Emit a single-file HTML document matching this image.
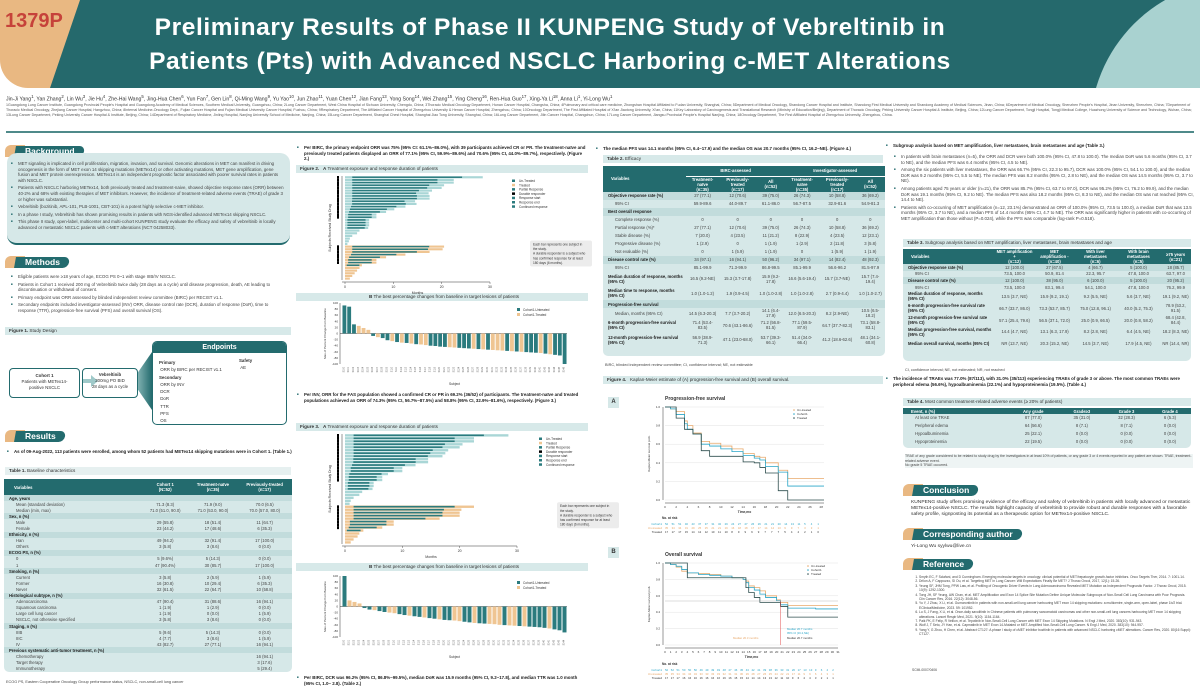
<!DOCTYPE html>
<html><head><meta charset="utf-8">
<style>
*{margin:0;padding:0;box-sizing:border-box}
body{width:1200px;height:691px;overflow:hidden;background:#fff;font-family:"Liberation Sans",sans-serif;color:#333;position:relative}
.a{position:absolute}
.t{font-size:4.4px;line-height:5.6px;color:#444}
.b{font-weight:bold}
.sec{position:absolute;height:12px}
.sec .w{position:absolute;left:0;top:0;width:20px;height:12px;background:#e9b882;border-radius:6px 0 0 0}
.sec .p{position:absolute;left:10px;top:1px;height:11px;background:#236b6e;color:#fff;font-weight:bold;font-size:8.5px;line-height:11px;padding:0 9px 0 10px;border-radius:0 7px 7px 0;transform:skewX(-10deg);white-space:nowrap}
.sec .p span{display:inline-block;transform:skewX(10deg)}
.cap{position:absolute;height:8px;background:#d7e9e9;font-size:4.6px;line-height:8px;padding-left:4px;color:#333}
ul.l{list-style:none}
ul.l li{position:relative;padding-left:8px;margin-bottom:2px}
ul.l li:before{content:"■";position:absolute;left:1px;top:0;font-size:3px;color:#236b6e}
table{border-collapse:collapse;width:100%}
td,th{font-size:4.2px;line-height:5px;padding:0 2px;text-align:center}
th{color:#fff;font-weight:bold}
td:first-child{text-align:left}
</style></head><body>

<!-- HEADER -->
<div class="a" style="left:0;top:0;width:1200px;height:88px;background:#e9b882;border-radius:0 0 0 28px;overflow:hidden">
  <div class="a" style="left:0;top:0;width:1200px;height:88px;background:#25696c;clip-path:polygon(80px 0,1200px 0,1200px 88px,50px 88px)"></div>
  <div class="a" style="left:1090px;top:-20px;width:300px;height:300px;border-radius:50%;background:#a9d2d0"></div>
  <div class="a b" style="left:5px;top:10px;font-size:20px;color:#c6423a">1379P</div>
  <div class="a b" style="left:90px;top:11px;width:920px;text-align:center;font-size:24.5px;line-height:34px;color:#fff;letter-spacing:0.6px">Preliminary Results of Phase II KUNPENG Study of Vebreltinib in<br>Patients (Pts) with Advanced NSCLC Harboring c-MET Alterations</div>
</div>
<div class="a" style="left:6px;top:94px;width:1190px;font-size:5.2px;color:#333">Jin-Ji Yang<sup>1</sup>, Yan Zhang<sup>2</sup>, Lin Wu<sup>3</sup>, Jie Hu<sup>4</sup>, Zhe-Hai Wang<sup>5</sup>, Jing-Hua Chen<sup>6</sup>, Yun Fan<sup>7</sup>, Gen Lin<sup>8</sup>, Qi-Ming Wang<sup>9</sup>, Yu Yao<sup>10</sup>, Jun Zhao<sup>11</sup>, Yuan Chen<sup>12</sup>, Jian Fang<sup>13</sup>, Yong Song<sup>14</sup>, Wei Zhang<sup>15</sup>, Ying Cheng<sup>16</sup>, Ren-Hua Guo<sup>17</sup>, Xing-Ya Li<sup>18</sup>, Anna Li<sup>1</sup>, Yi-Long Wu<sup>1</sup></div>
<div class="a t" style="left:6px;top:103px;width:1190px;font-size:3.6px;line-height:5px;color:#555">1Guangdong Lung Cancer Institute, Guangdong Provincial People's Hospital and Guangdong Academy of Medical Sciences, Southern Medical University, Guangzhou, China; 2Lung Cancer Department, West China Hospital of Sichuan University, Chengdu, China; 3Thoracic Medical Oncology Department, Hunan Cancer Hospital, Changsha, China; 4Pulmonary and critical care medicine, Zhongshan Hospital Affiliated to Fudan University, Shanghai, China; 5Department of Medical Oncology, Shandong Cancer Hospital and Institute, Shandong First Medical University and Shandong Academy of Medical Sciences, Jinan, China; 6Department of Medical Oncology, Shenzhen People's Hospital, Jinan University, Shenzhen, China; 7Department of Thoracic Medical Oncology, Zhejiang Cancer Hospital, Hangzhou, China; 8Internal Medicine-Oncology Dept., Fujian Cancer Hospital and Fujian Medical University Cancer Hospital, Fuzhou, China; 9Respiratory Department, The Affiliated Cancer Hospital of Zhengzhou University &amp; Henan Cancer Hospital, Zhengzhou, China; 10Oncology Department, The First Affiliated Hospital of Xi'an Jiaotong University, Xi'an, China; 11Key Laboratory of Carcinogenesis and Translational Research (Ministry of Education/Beijing), Department of Thoracic Oncology, Peking University Cancer Hospital &amp; Institute, Beijing, China; 12Lung Cancer Department, Tongji Hospital, Tongji Medical College, Huazhong University of Science and Technology, Wuhan, China; 13Lung Cancer Department, Peking University Cancer Hospital &amp; Institute, Beijing, China; 14Department of Respiratory Medicine, Jinling Hospital, Nanjing University School of Medicine, Nanjing, China; 15Lung Cancer Department, Shanghai Chest Hospital, Shanghai Jiao Tong University, Shanghai, China; 16Lung Cancer Department, Jilin Cancer Hospital, Changchun, China; 17Lung Cancer Department, Jiangsu Provincial People's Hospital Nanjing, China; 18Oncology Department, The First Affiliated Hospital of Zhengzhou University, Zhengzhou, China.</div>
<div class="a" style="left:6px;top:131px;width:1188px;height:2px;background:#4f8a8a"></div>

<!-- COLUMN 1 -->
<div class="sec" style="left:5px;top:145px"><div class="w"></div><div class="p"><span>Background</span></div></div>
<div class="a" style="left:7px;top:153px;width:283px;height:92px;background:#d6e8e8;border-radius:10px;border-bottom:2px solid #236b6e"></div>
<ul class="a l t" style="left:10px;top:161px;width:276px">
<li>MET signaling is implicated in cell proliferation, migration, invasion, and survival. Genomic alterations in MET can manifest in driving oncogenesis in the form of MET exon 14 skipping mutations (METex14) or other activating mutations, MET gene amplification, gene fusion and MET protein overexpression. METex14 is an independent prognostic factor associated with poorer survival rates in patients with NSCLC.</li>
<li>Patients with NSCLC harboring METex14, both previously treated and treatment-naive, showed objective response rates (ORR) between 40-2% and 68% with existing therapies of MET inhibitors. However, the incidence of treatment-related adverse events (TRAE) of grade 3 or higher was substantial.</li>
<li>Vebreltinib (bozitinib, APL-101, PLB-1001, CBT-101) is a potent highly selective c-MET inhibitor.</li>
<li>In a phase I study, Vebreltinib has shown promising results in patients with NGS-identified advanced METex14 skipping NSCLC.</li>
<li>This phase II study, open-label, multicenter and multi-cohort KUNPENG study evaluate the efficacy and safety of vebreltinib in locally advanced or metastatic NSCLC patients with c-MET alterations (NCT 04258033).</li>
</ul>
<div class="sec" style="left:5px;top:256px"><div class="w"></div><div class="p"><span>Methods</span></div></div>
<ul class="a l t" style="left:10px;top:274px;width:276px">
<li>Eligible patients were ≥18 years of age, ECOG PS 0~1 with stage IIIB/IV NSCLC.</li>
<li>Patients in Cohort 1 received 200 mg of Vebreltinib twice daily (28 days as a cycle) until disease progression, death, AE leading to discontinuation or withdrawal of consent.</li>
<li>Primary endpoint was ORR assessed by blinded independent review committee (BIRC) per RECIST v1.1.</li>
<li>Secondary endpoints included investigator-assessed (INV) ORR, disease control rate (DCR), duration of response (DoR), time to response (TTR), progression-free survival (PFS) and overall survival (OS).</li>
</ul>
<div class="cap" style="left:5px;top:327px;width:286px"><b>Figure 1.</b> Study Design</div>
<div class="a" style="left:9px;top:368px;width:71px;height:30px;border:1.3px solid #236b6e;border-radius:4px;text-align:center;font-size:4.4px;line-height:6px;padding-top:4px"><b>Cohort 1</b><br>Patients with METex14-<br>positive NSCLC</div>
<div class="a" style="left:82px;top:379px;width:10px;height:4px;background:#9fc9c9"></div>
<div class="a" style="left:91px;top:375px;width:0;height:0;border-left:7px solid #9fc9c9;border-top:6px solid transparent;border-bottom:6px solid transparent"></div>
<div class="a" style="left:82px;top:368px;width:56px;height:30px;border:1.3px solid #236b6e;border-radius:4px"></div>
<div class="a" style="left:82px;top:372px;width:56px;text-align:center;font-size:4.4px;line-height:6px"><b>Vebreltinib</b><br>200mg PO BID<br>28 days as a cycle</div>
<div class="a" style="left:138px;top:352px;width:14px;height:58px;background:linear-gradient(90deg,#7fb0b0,#236b6e);clip-path:polygon(0 35%,100% 0,100% 100%,0 65%)"></div>
<div class="a" style="left:152px;top:341px;width:135px;height:84px;border:1.3px solid #236b6e;border-radius:5px;overflow:hidden">
  <div style="height:11px;background:#236b6e;color:#fff;font-weight:bold;font-size:7px;line-height:11px;text-align:center">Endpoints</div>
  <div class="a" style="left:6px;top:17px;font-size:4.4px;line-height:7.3px"><b>Primary</b><br>&nbsp;ORR by BIRC per RECIST v1.1<br><b>Secondary</b><br>&nbsp;ORR by INV<br>&nbsp;DCR<br>&nbsp;DoR<br>&nbsp;TTR<br>&nbsp;PFS<br>&nbsp;OS</div>
  <div class="a" style="left:86px;top:15px;font-size:4.4px;line-height:7px"><b>Safety</b><br>&nbsp;AE</div>
</div>
<div class="sec" style="left:5px;top:430px"><div class="w"></div><div class="p"><span>Results</span></div></div>
<ul class="a l t b" style="left:6px;top:449px;width:286px;color:#222"><li>As of 09-Aug-2022, 113 patients were enrolled, among whom 52 patients had METex14 skipping mutations were in Cohort 1. (Table 1.)</li></ul>
<div class="cap" style="left:5px;top:467px;width:286px;background:#e6f0f0"><b>Table 1.</b> Baseline characteristics</div>
<div class="a" style="left:4px;top:479px;width:288px;height:193px;background:#d6e8e8;border-radius:0 0 5px 5px;overflow:hidden">
<table style="font-size:4px">
<tr style="background:#236b6e;height:16px"><th style="text-align:left;padding-left:10px">Variables</th><th>Cohort 1<br>(N=52)</th><th>Treatment-naïve<br>(n=35)</th><th>Previously-treated<br>(n=17)</th></tr>
<tbody id="t1"></tbody></table></div>
<div class="a t" style="left:6px;top:680px;font-size:3.8px">ECOG PS, Eastern Cooperative Oncology Group performance status, NSCLC, non-small-cell lung cancer</div>

<!-- COLUMN 2 -->
<ul class="a l t b" style="left:296px;top:145px;width:292px;color:#222"><li>Per BIRC, the primary endpoint ORR was 75% (95% CI: 61.1%~86.0%), with 39 participants achieved CR or PR. The treatment-naïve and previously treated patients displayed an ORR of 77.1% (95% CI, 59.9%~89.6%) and 70.6% (95% CI, 44.0%~89.7%), respectively. (Figure 2.)</li></ul>
<div class="cap" style="left:296px;top:165px;width:292px"><b>Figure 2.</b> &nbsp; <b>A</b> Treatment exposure and response duration of patients</div>
<div class="cap" style="left:296px;top:293px;width:292px;text-align:center"><b>B</b> The best percentage changes from baseline in target lesions of patients</div>
<ul class="a l t b" style="left:296px;top:392px;width:292px;color:#222"><li>Per INV, ORR for the FAS population showed a confirmed CR or PR in 69.2% (36/52) of participants. The treatment-naïve and treated populations achieved an ORR of 74.3% (95% CI, 56.7%~87.5%) and 58.8% (95% CI, 32.9%~81.6%), respectively. (Figure 3.)</li></ul>
<div class="cap" style="left:296px;top:423px;width:292px"><b>Figure 3.</b> &nbsp; <b>A</b> Treatment exposure and response duration of patients</div>
<div class="cap" style="left:296px;top:563px;width:292px;text-align:center"><b>B</b> The best percentage changes from baseline in target lesions of patients</div>
<ul class="a l t b" style="left:296px;top:675px;width:292px;color:#222"><li>Per BIRC, DCR was 96.2% (95% CI, 86.8%~99.5%), median DoR was 15.9 months (95% CI, 9.2~17.8), and median TTR was 1.0 month (95% CI, 1.0~ 2.8). (Table 2.)</li></ul>

<!-- COLUMN 3 -->
<ul class="a l t b" style="left:595px;top:146px;width:285px;color:#222"><li>The median PFS was 14.1 months (95% CI, 6.4~17.9) and the median OS was 20.7 months (95% CI, 16.2~NE). (Figure 4.)</li></ul>
<div class="cap" style="left:603px;top:155px;width:280px"><b>Table 2.</b> Efficacy</div>
<div class="a" style="left:603px;top:166px;width:282px;height:190px;background:#d6e8e8;border-radius:0 0 5px 5px;overflow:hidden">
<table>
<tr style="background:#236b6e;height:10px"><th rowspan="2" style="text-align:left;padding-left:8px">Variables</th><th colspan="3" style="border-bottom:0.5px solid #fff">BIRC-assessed</th><th colspan="3" style="border-bottom:0.5px solid #fff">Investigator-assessed</th></tr>
<tr style="background:#236b6e;height:14px"><th>Treatment-naïve<br>(n=35)</th><th>Previously-treated<br>(n=17)</th><th>All<br>(n=52)</th><th>Treatment-naïve<br>(n=35)</th><th>Previously-treated<br>(n=17)</th><th>All<br>(n=52)</th></tr>
<tbody id="t2"></tbody></table></div>
<div class="a t" style="left:605px;top:363px;font-size:3.8px">BIRC, blinded independent review committee; CI, confidence interval; NE, not estimable</div>
<div class="cap" style="left:603px;top:376px;width:280px"><b>Figure 4.</b> &nbsp; Kaplan-Meier estimate of (A) progression-free survival and (B) overall survival.</div>
<div class="a b" style="left:608px;top:397px;width:11px;height:11px;background:#d6e8e8;font-size:6px;line-height:11px;text-align:center">A</div>
<div class="a b" style="left:608px;top:547px;width:11px;height:11px;background:#d6e8e8;font-size:6px;line-height:11px;text-align:center">B</div>

<!-- COLUMN 4 -->
<ul class="a l t b" style="left:885px;top:143px;width:310px;color:#222"><li>Subgroup analysis based on MET amplification, liver metastases, brain metastases and age (Table 3.)</li></ul>
<ul class="a l t" style="left:893px;top:154px;width:302px">
<li>In patients with brain metastases (n=5), the ORR and DCR were both 100.0% (95% CI, 47.8 to 100.0). The median DoR was 5.6 months (95% CI, 3.7 to NE), and the median PFS was 6.4 months (95% CI, 4.5 to NE).</li>
<li>Among the six patients with liver metastases, the ORR was 66.7% (95% CI, 22.3 to 95.7), DCR was 100.0% (95% CI, 54.1 to 100.0), and the median DoR was 9.2 months (95% CI, 5.5 to NE). The median PFS was 8.2 months (95% CI, 2.8 to NE), and the median OS was 14.5 months (95% CI, 3.7 to NE).</li>
<li>Among patients aged 75 years or older (n=21), the ORR was 85.7% (95% CI, 63.7 to 97.0), DCR was 95.2% (95% CI, 76.2 to 99.9), and the median DoR was 19.1 months (95% CI, 9.2 to NE). The median PFS was also 18.2 months (95% CI, 8.3 to NE), and the median OS was not reached (95% CI, 14.4 to NE).</li>
<li>Patients with co-occurring of MET amplification (n=12, 23.1%) demonstrated an ORR of 100.0% (95% CI, 73.5 to 100.0), a median DoR that was 13.5 months (95% CI, 3.7 to NE), and a median PFS of 14.4 months (95% CI, 4.7 to NE). The ORR was significantly higher in patients with co-occurring of MET amplification than those without (P=0.024), while the PFS was comparable (log-rank P=0.518).</li>
</ul>
<div class="cap" style="left:903px;top:239px;width:288px"><b>Table 3.</b> Subgroup analysis based on MET amplification, liver metastases, brain metastases and age</div>
<div class="a" style="left:903px;top:249px;width:288px;height:112px;background:#d6e8e8;border-radius:0 0 5px 5px;overflow:hidden">
<table>
<tr style="background:#236b6e;height:15px"><th style="text-align:left;padding-left:8px">Variables</th><th>MET amplification +<br>(n=12)</th><th>MET amplification -<br>(n=40)</th><th>With liver metastases<br>(n=6)</th><th>With brain metastases<br>(n=5)</th><th>≥75 years<br>(n=21)</th></tr>
<tbody id="t3"></tbody></table></div>
<div class="a t" style="left:905px;top:368px;font-size:3.8px">CI, confidence interval; NE, not estimated; NR, not reached</div>
<ul class="a l t b" style="left:885px;top:376px;width:310px;color:#222"><li>The incidence of TRAEs was 77.0% (87/113), with 31.0% (35/113) experiencing TRAEs of grade 3 or above. The most common TRAEs were peripheral edema (56.6%), hypoalbuminemia (22.1%) and hypoproteinemia (19.5%). (Table 4.)</li></ul>
<div class="cap" style="left:903px;top:398px;width:288px"><b>Table 4.</b> Most common treatment-related adverse events (≥ 20% of patients)</div>
<div class="a" style="left:903px;top:408px;width:288px;height:40px;background:#d6e8e8;border-radius:0 0 5px 5px;overflow:hidden">
<table>
<tr style="background:#236b6e;height:6px"><th style="text-align:left;padding-left:8px">Event, n (%)</th><th>Any grade</th><th>Grade≥3</th><th>Grade 3</th><th>Grade 4</th></tr>
<tbody id="t4"></tbody></table></div>
<div class="a t" style="left:905px;top:454px;width:288px;font-size:3.5px;line-height:4.6px;background:#eef4f4">TRAE of any grade considered to be related to study drug by the investigators in at least 10% of patients, or any grade 3 or 4 events reported in any patient are shown. TRAE, treatment-related adverse event.<br>No grade 5 TRAE occurred.</div>
<div class="sec" style="left:903px;top:484px"><div class="w"></div><div class="p"><span>Conclusion</span></div></div>
<div class="a" style="left:911px;top:500px;width:280px;font-size:4.9px;line-height:6px;color:#333">KUNPENG study offers promising evidence of the efficacy and safety of vebreltinib in patients with locally advanced or metastatic METex14-positive NSCLC. The results highlight capacity of vebreltinib to provide robust and durable responses with a favorable safety profile, signposting its potential as a therapeutic option for METex14-positive NSCLC.</div>
<div class="sec" style="left:903px;top:528px"><div class="w"></div><div class="p"><span>Corresponding author</span></div></div>
<div class="a" style="left:911px;top:544px;font-size:4.9px">Yi-Long Wu syylwu@live.cn</div>
<div class="sec" style="left:903px;top:558px"><div class="w"></div><div class="p"><span>Reference</span></div></div>
<ol class="a t" style="left:913px;top:575px;width:278px;font-size:3.3px;line-height:4.4px;padding-left:6px">
<li>Smyth EC, F Sclafani, and D Cunningham. Emerging molecular targets in oncology: clinical potential of MET/hepatocyte growth-factor inhibitors. Onco Targets Ther, 2014. 7: 1001-14.</li>
<li>Drilon A, F Cappuzzo, SI Ou, et al. Targeting MET in Lung Cancer: Will Expectations Finally Be MET? J Thorac Oncol, 2017, 12(1): 15-26.</li>
<li>Yeung SF, JHM Tong, PPW Law, et al. Profiling of Oncogenic Driver Events in Lung Adenocarcinoma Revealed MET Mutation as Independent Prognostic Factor. J Thorac Oncol, 2015. 10(9): 1292-1300.</li>
<li>Tong JH, SF Yeung, AW Chan, et al. MET Amplification and Exon 14 Splice Site Mutation Define Unique Molecular Subgroups of Non-Small Cell Lung Carcinoma with Poor Prognosis. Clin Cancer Res, 2016. 22(12): 3048-56.</li>
<li>Yu Y, J Zhou, X Li, et al. Gumarontinib in patients with non-small-cell lung cancer harbouring MET exon 14 skipping mutations: a multicentre, single-arm, open-label, phase 1b/2 trial. EClinicalMedicine, 2023. 59: 101952.</li>
<li>Lu S, J Fang, X Li, et al. Once-daily savolitinib in Chinese patients with pulmonary sarcomatoid carcinomas and other non-small-cell lung cancers harbouring MET exon 14 skipping alterations. Lancet Respir Med, 2021. 9(10): 1154-1164.</li>
<li>Paik PK, E Felip, R Veillon, et al. Tepotinib in Non-Small-Cell Lung Cancer with MET Exon 14 Skipping Mutations. N Engl J Med, 2020. 383(10): 931-943.</li>
<li>Wolf J, T Seto, JY Han, et al. Capmatinib in MET Exon 14-Mutated or MET-Amplified Non-Small-Cell Lung Cancer. N Engl J Med, 2020. 383(10): 944-957.</li>
<li>Yang Y, G Zhou, H Chen, et al. Abstract CT127: A phase I study of cMET inhibitor bozitinib in patients with advanced NSCLC harboring cMET alterations. Cancer Res, 2020. 80(16 Suppl): CT127.</li>
</ol>
<div class="a t" style="left:912px;top:668px;font-size:3.3px">SCMI-0007/0406</div>

<svg id="charts" class="a" style="left:0;top:0" width="1200" height="691" font-family="Liberation Sans, sans-serif"></svg>

<script>
// ---------- TABLE DATA ----------
const t1Rows=[["Age, years","","","",1],["Mean (standard deviation)","71.3 (8.3)","71.9 (9.0)","70.0 (6.5)"],["Median (min, max)","71.0 (51.0, 90.0)","71.0 (53.0, 90.0)","70.0 (57.0, 80.0)"],["Sex, n (%)","","","",1],["Male","29 (55.8)","18 (51.4)","11 (64.7)"],["Female","23 (44.2)","17 (48.6)","6 (35.3)"],["Ethnicity, n (%)","","","",1],["Han","49 (94.2)","32 (91.4)","17 (100.0)"],["Others","3 (5.8)","3 (8.6)","0 (0.0)"],["ECOG PS, n (%)","","","",1],["0","5 (9.6%)","5 (14.3)","0 (0.0)"],["1","47 (90.4%)","30 (85.7)","17 (100.0)"],["Smoking, n (%)","","","",1],["Current","3 (5.8)","2 (5.9)","1 (5.9)"],["Former","16 (30.8)","10 (29.4)","6 (35.3)"],["Never","32 (61.5)","22 (64.7)","10 (58.8)"],["Histological subtype, n (%)","","","",1],["Adenocarcinoma","47 (90.4)","31 (88.6)","16 (94.1)"],["Squamous carcinoma","1 (1.9)","1 (2.9)","0 (0.0)"],["Large cell lung cancer","1 (1.9)","0 (0.0)","1 (5.9)"],["NSCLC, not otherwise specified","3 (5.8)","3 (8.6)","0 (0.0)"],["Staging, n (%)","","","",1],["IIIB","5 (9.6)","5 (14.3)","0 (0.0)"],["IIIC","4 (7.7)","3 (8.6)","1 (5.9)"],["IV","43 (82.7)","27 (77.1)","16 (94.1)"],["Previous systematic anti-tumor treatment, n (%)","","","",1],["Chemotherapy","","","16 (94.1)"],["Target therapy","","","3 (17.6)"],["Immunotherapy","","","5 (29.4)"]];
const t2Rows=[["Objective response rate (%)","27 (77.1)","12 (70.6)","39 (75.0)","26 (74.3)","10 (58.8)","36 (69.2)",1],["95% CI","59.9-89.6","44.0-89.7","61.1-86.0","56.7-87.5","32.9-81.6","54.9-81.3"],["Best overall response","","","","","","",1],["Complete response (%)","0","0","0","0","0","0"],["Partial response (%)*","27 (77.1)","12 (70.6)","39 (75.0)","26 (74.3)","10 (58.8)","36 (69.2)"],["Stable disease (%)","7 (20.0)","4 (23.5)","11 (21.2)","8 (22.9)","4 (23.5)","12 (23.1)"],["Progressive disease (%)","1 (2.9)","0","1 (1.9)","1 (2.9)","2 (11.8)","3 (5.8)"],["Not evaluable (%)","0","1 (5.9)","1 (1.9)","0","1 (5.9)","1 (1.9)"],["Disease control rate (%)","34 (97.1)","16 (94.1)","50 (96.2)","34 (97.1)","14 (82.4)","48 (92.3)",1],["95% CI","85.1-99.9","71.3-99.9","86.8-99.5","85.1-99.9","56.6-96.2","81.5-97.9"],["Median duration of response, months (95% CI)","16.5 (9.2-NE)","15.3 (3.7-17.8)","15.9 (9.2-17.8)","16.6 (5.6-19.4)","15.7 (3.7-NE)","15.7 (7.4-19.4)",2],["Median time to response, months (95% CI)","1.0 (1.0-1.2)","1.9 (0.9-4.5)","1.0 (1.0-2.8)","1.0 (1.0-2.8)","2.7 (0.9-4.4)","1.0 (1.0-2.7)",2],["Progression-free survival","","","","","","",1],["Median, months (95% CI)","14.5 (6.3-20.3)","7.7 (3.7-20.2)","14.1 (6.4-17.9)","12.0 (6.5-20.3)","8.2 (2.9-NE)","10.5 (6.5-18.2)"],["6-month progression-free survival (95% CI)","71.4 (53.4-83.5)","70.6 (43.1-86.6)","71.2 (56.8-81.5)","77.1 (59.5-87.9)","64.7 (37.7-82.3)","73.1 (58.8-83.1)",2],["12-month progression-free survival (95% CI)","56.9 (38.9-71.3)","47.1 (23.0-68.0)","53.7 (39.3-66.1)","51.4 (34.0-66.4)","41.2 (18.6-62.6)","48.1 (34.1-60.8)",2]];
const t3Rows=[["Objective response rate (%)","12 (100.0)","27 (67.5)","4 (66.7)","5 (100.0)","18 (85.7)",1],["95% CI","73.5, 100.0","50.9, 81.4","22.3, 95.7","47.8, 100.0","63.7, 97.0"],["Disease control rate (%)","12 (100.0)","38 (95.0)","6 (100.0)","5 (100.0)","20 (95.2)",1],["95% CI","73.5, 100.0","83.1, 99.4","54.1, 100.0","47.8, 100.0","76.2, 99.9"],["Median duration of response, months (95% CI)","13.5 (3.7, NE)","15.9 (9.2, 19.1)","9.2 (5.5, NE)","5.6 (3.7, NE)","19.1 (9.2, NE)",2],["6-month progression-free survival rate (95% CI)","66.7 (33.7, 86.0)","73.3 (53.7, 85.7)","75.0 (12.8, 96.1)","40.0 (5.2, 75.3)","78.9 (53.2, 91.5)",2],["12-month progression-free survival rate (95% CI)","57.1 (25.4, 79.6)","56.5 (37.1, 72.0)","25.0 (0.9, 66.5)","20.0 (0.8, 58.2)","68.4 (42.8, 84.4)",2],["Median progression-free survival, months (95% CI)","14.4 (4.7, NE)","13.1 (6.3, 17.9)","8.2 (2.8, NE)","6.4 (4.5, NE)","18.2 (8.3, NE)",2],["Median overall survival, months (95% CI)","NR (13.7, NE)","20.3 (15.2, NE)","14.5 (3.7, NE)","17.9 (4.5, NE)","NR (14.4, NR)",2]];
const t4Rows=[["At least one TRAE","87 (77.0)","35 (31.0)","32 (28.3)","6 (5.3)"],["Peripheral edema","64 (56.6)","8 (7.1)","8 (7.1)","0 (0.0)"],["Hypoalbuminemia","25 (22.1)","0 (0.0)","0 (0.0)","0 (0.0)"],["Hypoproteinemia","22 (19.5)","0 (0.0)","0 (0.0)","0 (0.0)"]];
function fill(id,rows,n,rh){const tb=document.getElementById(id);rows.forEach((r,i)=>{const tr=document.createElement('tr');


const hdr=r[n]===1,dbl=r[n]===2;tr.style.height=(dbl?rh*1.8:rh)+'px';
for(let c=0;c<n;c++){const td=document.createElement('td');td.textContent=r[c];if(c==0){td.style.paddingLeft=hdr||dbl?'5px':'12px';if(hdr||dbl)td.style.fontWeight='bold';td.style.color=hdr||dbl?'#222':'#444'}td.style.color=td.style.color||'#444';tr.appendChild(td)}
if(hdr)tr.style.background='#c2dcdc';tb.appendChild(tr)})}
fill('t1',t1Rows,4,6.1);fill('t2',t2Rows,7,8);fill('t3',t3Rows,6,6.6);fill('t4',t4Rows,5,7.8);

// ---------- CHART DATA ----------
const swim2=[28.5,22.5,22.5,20.5,20,18,17.3,17.5,17.5,14.5,14.8,12.5,10.2,8.5,6.5,6.5,5,5,5,4.8,3,2.5,1.5,1,0.8,0.5,20.5,20.2,17.5,12.5,8.5,6.5,6.5,3.5,3,2.5,2,1.5,1];
const swimGrp2=[0,0,0,0,0,0,0,0,0,0,0,0,0,0,0,0,0,0,0,0,0,0,0,0,0,0,1,1,1,1,1,1,1,1,1,1,1,1,1];
const swim3=[28.5,22.5,22.5,20.5,20,18,17.5,17,14.5,14.5,12.3,10,10,7.5,6.5,6.5,5,5,4.8,3,2.5,1.5,1,0.8,22.5,20.3,20,20,16.5,8.5,8.5,6.5,3.2,2.5,2.2,1.5,1];
const swimGrp3=[0,0,0,0,0,0,0,0,0,0,0,0,0,0,0,0,0,0,0,0,0,0,0,0,1,1,1,1,1,1,1,1,1,1,1,1,1];
const wf2=[92,88,30,25,18,12,-8,-12,-15,-22,-25,-28,-30,-31,-33,-35,-36,-38,-40,-41,-43,-44,-45,-46,-47,-48,-49,-50,-51,-52,-53,-54,-55,-56,-57,-58,-59,-60,-61,-62,-63,-64,-66,-68,-70,-72,-100];
const wfGrp2=[0,0,0,1,1,1,0,1,0,0,1,0,1,0,1,0,1,1,0,0,0,0,1,1,0,0,0,1,0,1,0,1,1,1,0,1,0,1,0,0,0,1,0,1,0,0,0];
const wf3=[100,20,15,10,-5,-10,-12,-15,-18,-20,-22,-25,-28,-30,-32,-34,-36,-38,-40,-42,-44,-45,-46,-48,-50,-52,-54,-55,-56,-57,-58,-60,-61,-62,-63,-64,-65,-66,-67,-68,-70,-72,-75,-78,-85];
const wfGrp3=[0,1,1,1,0,0,1,0,0,1,1,0,0,1,0,0,1,0,0,1,0,0,1,1,0,0,1,0,0,1,1,1,0,1,1,0,1,0,0,0,0,1,0,0,0];
const pfsT=[0,1,2,3.5,4,5,6.5,8,10,12,14,16,17,18,20.3,22,28.5];
const pfsAll=[1,0.98,0.92,0.82,0.76,0.71,0.6,0.58,0.55,0.52,0.48,0.45,0.43,0.36,0.3,0.15,0.15];
const pfsNaive=[1,0.98,0.95,0.85,0.8,0.72,0.63,0.61,0.58,0.55,0.5,0.47,0.46,0.4,0.32,0.23,0.23];
const pfsTreated=[1,1,0.88,0.76,0.76,0.71,0.53,0.47,0.47,0.47,0.41,0.4,0.35,0.29,0.1,0,0];
const osT=[0,1,2,3,4,6,8,10,12,14,14.5,15,16,17,18,20,20.7,22,27,31];
const osAll=[1,0.98,0.96,0.92,0.88,0.86,0.85,0.84,0.82,0.8,0.76,0.7,0.67,0.62,0.58,0.54,0.49,0.45,0.44,0.44];
const osNaive=[1,0.98,0.95,0.9,0.88,0.87,0.86,0.84,0.82,0.8,0.78,0.72,0.7,0.66,0.6,0.55,0.52,0.48,0.48,0.48];
const osTreated=[1,1,1,1,0.82,0.82,0.82,0.82,0.82,0.82,0.7,0.64,0.58,0.52,0.52,0.52,0.47,0.34,0.34,0.34];
const pfsTicks=[0,2,4,6,8,10,12,14,16,18,20,22,24,26,28];
const osTicks=[0,1,2,3,4,5,6,7,8,9,10,11,12,13,14,15,16,17,18,19,20,21,22,23,24,25,26,27,28,29,30,31];
const survTicks=[0,0.2,0.4,0.6,0.8,1.0];
const wfTicks=[100,80,60,40,20,0,-20,-40,-60,-80,-100];
const pfsRiskAll=[52,51,51,46,43,37,37,31,32,29,24,27,27,26,26,21,21,20,14,13,11,5,4,1];
const osRiskAll=[52,52,51,50,50,50,49,49,49,49,48,47,46,45,43,42,41,39,38,36,33,31,26,17,13,13,9,6,4,2];

const NS='http://www.w3.org/2000/svg', svg=document.getElementById('charts');
const TEAL='#2b7b7e', PEACH='#efc592', LTEAL='#a9d6d6';
function el(tag,at,parent){const e=document.createElementNS(NS,tag);for(const k in at)e.setAttribute(k,at[k]);(parent||svg).appendChild(e);return e}
function txt(x,y,s,size,at,parent){const e=el('text',Object.assign({x:x,y:y,'font-size':size,fill:'#333'},at||{}),parent);e.textContent=s;return e}

function swimmer(data,grp,x0,x1,y0,y1,maxM,name){
  const g=el('g',{});
  
  
  const sx=v=>x0+(x1-x0)*v/maxM, bh=(y1-y0)/data.length;
  el('line',{x1:x0-3,y1:y0,x2:x0-3,y2:y1,stroke:'#333','stroke-width':0.5},g);
  el('line',{x1:x0-3,y1:y1+2,x2:x1,y2:y1+2,stroke:'#333','stroke-width':0.5},g);
  [0,10,20,30].forEach(t=>{el('line',{x1:sx(t),y1:y1+2,x2:sx(t),y2:y1+4,stroke:'#333','stroke-width':0.4},g);txt(sx(t),y1+8,String(t),3.5,{'text-anchor':'middle'},g)});
  txt((x0+x1)/2,y1+14,'Months',3.5,{'text-anchor':'middle'},g);
  txt(x0-14,(y0+y1)/2,'Subjects Received Study Drug',3.5,{'text-anchor':'middle',transform:`rotate(-90 ${x0-14} ${(y0+y1)/2})`},g);
  data.forEach((v,i)=>{const y=y0+i*bh;
    const r=el('rect',{x:x0,y:y+0.2,width:sx(v)-x0,height:bh*0.8,fill:grp[i]?PEACH:LTEAL},g);
    
    
    if(v>3){el('rect',{x:sx(Math.min(1.5,v*0.1)),y:y+0.5,width:sx(v*0.85)-sx(Math.min(1.5,v*0.1)),height:bh*0.55,fill:TEAL},g)}
    if(v>6)el('rect',{x:x0-8,y:y,width:2,height:bh,fill:'#000'},g);
  });
  const lx=x1+22, ly=y0+6, items=['Un-Treated','Treated','Partial Response','Durable responder','Response start','Response end','Continued response'];
  items.forEach((s,i)=>{el('rect',{x:lx,y:ly+i*4.3-2.5,width:3,height:2.5,fill:i==3?'#000':i==1?PEACH:TEAL},g);txt(lx+7,ly+i*4.3,s,3.2,{},g)});
  const bx=x1+40, by=y0+(y1-y0)*0.62;
  el('rect',{x:bx,y:by,width:62,height:26,fill:'#ececec',rx:2},g);
  ['Each bar represents one subject in','the study.','A durable responder is a subject who','has confirmed response for at least','180 days (6 months).'].forEach((s,i)=>txt(bx+3,by+5+i*4.6,s,3.2,{},g));
}
swimmer(swim2,swimGrp2,345,490,176,280,30,'figure2a-swimmer-plot');
swimmer(swim3,swimGrp3,345,517,434,544,30,'figure3a-swimmer-plot');

function waterfall(data,grp,x0,x1,yTop,yBot,name){
  const g=el('g',{});
  
  
  const sy=v=>yTop+(yBot-yTop)*(100-v)/200, bw=(x1-x0)/data.length;
  el('line',{x1:x0-2,y1:yTop,x2:x0-2,y2:yBot,stroke:'#333','stroke-width':0.5},g);
  el('line',{x1:x0-2,y1:sy(0),x2:x1,y2:sy(0),stroke:'#333','stroke-width':0.6},g);
  wfTicks.forEach(t=>txt(x0-4,sy(t)+1,String(t),3,{'text-anchor':'end'},g));
  txt(x0-16,(yTop+yBot)/2,'Max of Percent Change from Baseline',3,{'text-anchor':'middle',transform:`rotate(-90 ${x0-16} ${(yTop+yBot)/2})`},g);
  data.forEach((v,i)=>{const x=x0+i*bw;
    const r=el('rect',{x:x+bw*0.1,y:Math.min(sy(v),sy(0)),width:bw*0.8,height:Math.abs(sy(v)-sy(0)),fill:grp[i]?PEACH:TEAL},g);
    
    
    txt(x+bw*0.5,yBot+3,'S'+String(100+i),2.3,{'text-anchor':'end',transform:`rotate(-90 ${x+bw*0.5} ${yBot+3})`,fill:'#555'},g);
  });
  txt((x0+x1)/2,yBot+21,'Subject',3.3,{'text-anchor':'middle'},g);
  el('rect',{x:x1-50,y:yTop+5,width:3,height:3,fill:TEAL},g);txt(x1-44,yTop+8,'Cohort1-Untreated',3.2,{},g);
  el('rect',{x:x1-50,y:yTop+10,width:3,height:3,fill:PEACH},g);txt(x1-44,yTop+13,'Cohort1-Treated',3.2,{},g);
}
waterfall(wf2,wfGrp2,342,567,303,364,'figure2b-waterfall');
waterfall(wf3,wfGrp3,342,567,576,637,'figure3b-waterfall');

function km(T,series,x0,x1,y1,y0,maxT,ticks,title,name,risk,riskY){
  const g=el('g',{});
  
  
  const sx=v=>x0+(x1-x0)*v/maxT, sy=v=>y0-(y0-y1)*v;
  txt(x0,y1-7,title,5,{'font-weight':'bold'},g);
  survTicks.forEach(t=>{el('line',{x1:x0,y1:sy(t),x2:x1,y2:sy(t),stroke:'#e3e3e3','stroke-width':0.5},g);txt(x0-5,sy(t)+1,t.toFixed(1),3,{'text-anchor':'end'},g)});
  el('line',{x1:x0-2,y1:y1,x2:x0-2,y2:y0,stroke:'#333','stroke-width':0.5},g);
  el('line',{x1:x0,y1:y0+3,x2:x1,y2:y0+3,stroke:'#333','stroke-width':0.5},g);
  ticks.forEach(t=>txt(sx(t),y0+8,String(t),3,{'text-anchor':'middle'},g));
  txt((x0+x1)/2,y0+13,'Time,mo',3.3,{'text-anchor':'middle','font-weight':'bold'},g);
  txt(x0-15,(y0+y1)/2,'Kaplan-Meier survival prob.',3,{'text-anchor':'middle',transform:`rotate(-90 ${x0-15} ${(y0+y1)/2})`},g);
  series.forEach(s=>{let d='M'+sx(T[0])+','+sy(s.v[0]);for(let i=1;i<T.length;i++){d+='H'+sx(T[i])+'V'+sy(s.v[i])}
    const p=el('path',{d:d,fill:'none',stroke:s.c,'stroke-width':0.8},g);
    
    });
  const lx=x1-30; series.forEach((s,i)=>{el('circle',{cx:lx,cy:y1+3+i*4,r:0.8,fill:s.c},g);txt(lx+3,y1+4+i*4,s.label,3,{},g)});
  txt(x0-3,riskY,'No. at risk',3.2,{'font-weight':'bold'},g);
  const lab=['Cohort1','Un-treated','Treated'],cols=['#2aa6c8','#e8a86a','#333'];
  lab.forEach((l,j)=>{txt(x0-3,riskY+6+j*4,l,3,{'text-anchor':'end',fill:cols[j]},g);
    risk.forEach((n,i)=>{const v=j==0?n:j==1?Math.round(n*0.67):n-Math.round(n*0.67);txt(x0+i*(x1-x0)/risk.length,riskY+6+j*4,String(v),2.8,{fill:cols[j]},g)})});
}
const S=[{n:'cohort',label:'Cohort1',c:'#2aa6c8'},{n:'untreated',label:'Un-treated',c:'#e8a86a'},{n:'treated',label:'Treated',c:'#2f4f4f'}];
km(pfsT,[Object.assign({v:pfsNaive},S[1]),Object.assign({v:pfsAll},S[0]),Object.assign({v:pfsTreated},S[2])],665,824,407,500,28.5,pfsTicks,'Progression-free survival','figure4a-pfs-plot',pfsRiskAll,519);
km(osT,[Object.assign({v:osNaive},S[1]),Object.assign({v:osAll},S[0]),Object.assign({v:osTreated},S[2])],665,838,563,645,31,osTicks,'Overall survival','figure4b-os-plot',osRiskAll,665);
el('line',{x1:665,y1:601,x2:838,y2:601,stroke:'#aaa','stroke-width':0.4});
el('line',{x1:665+173*20.7/31,y1:601,x2:665+173*20.7/31,y2:645,stroke:'#e05050','stroke-width':0.5});
txt(787,630,'Median 20.7 months',2.8,{fill:'#2aa6c8'});txt(787,634,'95% CI [16.2,NE]',2.8,{fill:'#2aa6c8'});
txt(733,639,'Median 20.3 months',2.8,{fill:'#e8a86a'});txt(787,639,'Median 20.7 months',2.8,{fill:'#333'});
</script>
</body></html>
